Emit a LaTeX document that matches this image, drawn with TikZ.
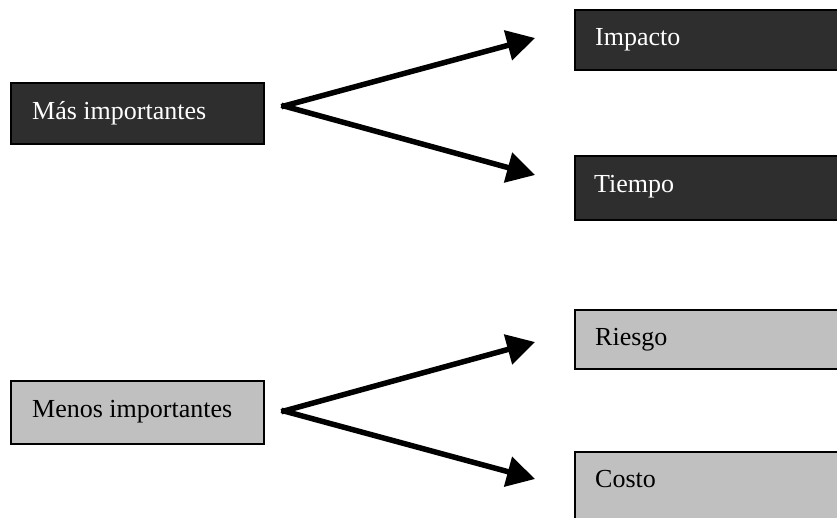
\documentclass[tikz,border=0pt]{standalone}
\usepackage{fontspec}
\setmainfont{Liberation Serif}
\usetikzlibrary{arrows.meta}
\definecolor{darkbox}{HTML}{2E2E2E}
\definecolor{lightbox}{HTML}{C0C0C0}
\tikzset{
  boxbase/.style={draw=black, line width=1.5pt, rectangle, inner sep=0pt, anchor=north west},
  darkfill/.style={boxbase, fill=darkbox},
  lightfill/.style={boxbase, fill=lightbox},
  lbl/.style={anchor=base west, inner sep=0pt, font=\fontsize{26}{29}\selectfont},
  wlbl/.style={lbl, text=white},
  blbl/.style={lbl, text=black},
  conn/.style={line width=5.5pt, line cap=rect, -{Triangle[length=28pt,width=30pt]}}
}
\begin{document}
\begin{tikzpicture}[x=1pt,y=-1pt]
\useasboundingbox (0,0) rectangle (837,517);
\clip (0,0) rectangle (837,517);
% left boxes
\node[darkfill, minimum width=253pt, minimum height=61pt] (mas) at (10,82) {};
\node[lightfill, minimum width=253pt, minimum height=63pt] (menos) at (10,380) {};
% right boxes
\node[darkfill, minimum width=280pt, minimum height=60pt] (impacto) at (574,9) {};
\node[darkfill, minimum width=280pt, minimum height=64pt] (tiempo) at (574,155) {};
\node[lightfill, minimum width=280pt, minimum height=59pt] (riesgo) at (574,309) {};
\node[lightfill, minimum width=280pt, minimum height=80pt] (costo) at (574,451) {};
% labels
\node[wlbl] (tmas) at (32,119) {Más importantes};
\node[blbl] (tmenos) at (32,417) {Menos importantes};
\node[wlbl] (timp) at (595,45) {Impacto};
\node[wlbl] (ttie) at (594,192) {Tiempo};
\node[blbl] (trie) at (595,345) {Riesgo};
\node[blbl] (tcos) at (595,487) {Costo};
% connector points
\coordinate (s1) at (284,106);
\coordinate (a1) at (535,38);
\coordinate (a2) at (535,175);
\coordinate (s2) at (284,411);
\coordinate (a3) at (535,342);
\coordinate (a4) at (535,479);
\draw[conn] (s1) -- (a1);
\draw[conn] (s1) -- (a2);
\draw[conn] (s2) -- (a3);
\draw[conn] (s2) -- (a4);
\end{tikzpicture}
\end{document}
